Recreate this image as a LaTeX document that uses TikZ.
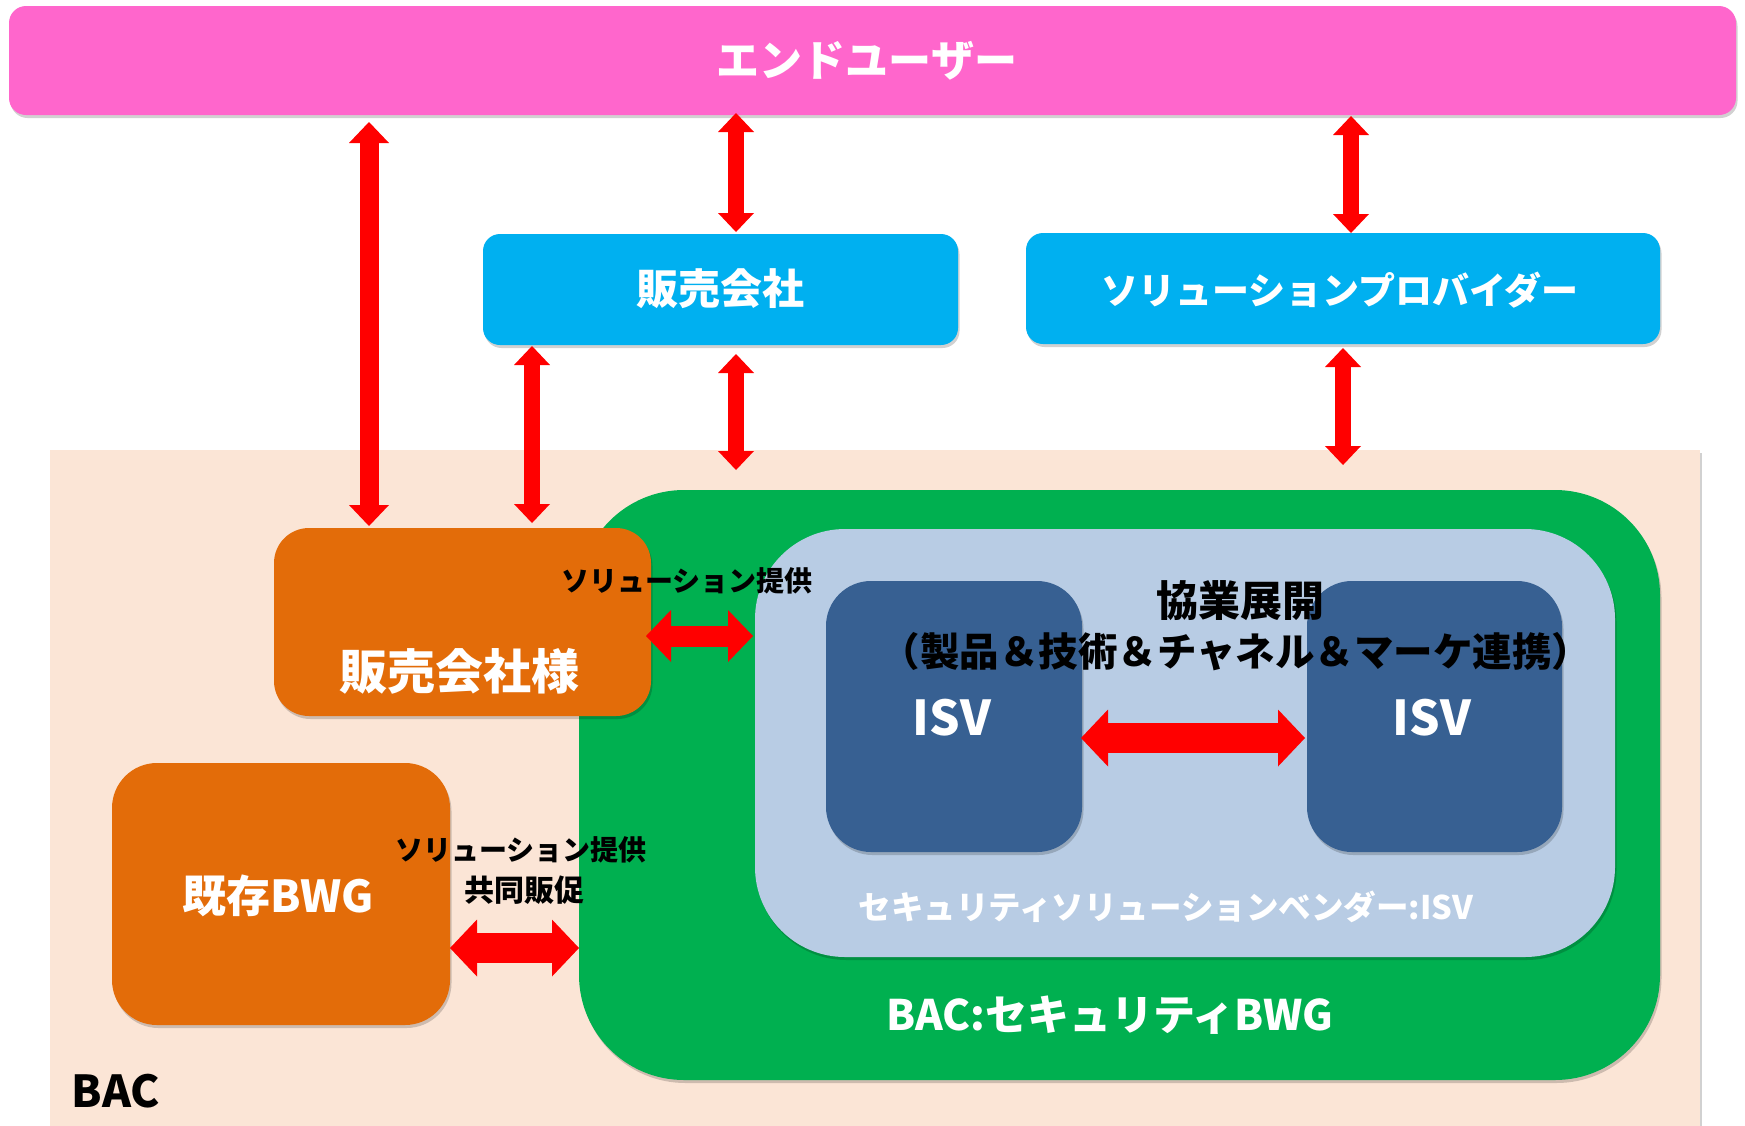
\documentclass[tikz,border=0pt]{standalone}
\usepackage{fontspec}
\usepackage{graphicx}
\setmainfont{Noto Sans CJK JP}
\usetikzlibrary{arrows.meta,shadows}
\newcommand{\fsz}[1]{\fontsize{#1pt}{#1pt}\selectfont\bfseries}
\definecolor{cpink}{HTML}{FF66CC}
\definecolor{cblue}{HTML}{00B0F0}
\definecolor{cbeige}{HTML}{FBE5D6}
\definecolor{cgreen}{HTML}{00B050}
\definecolor{clblue}{HTML}{B8CCE4}
\definecolor{cdblue}{HTML}{376092}
\definecolor{corange}{HTML}{E36C09}
\definecolor{cred}{HTML}{FF0000}
\begin{document}
\begin{tikzpicture}[x=1pt,y=-1pt,
  shad/.style={drop shadow={shadow xshift=1.5pt,shadow yshift=-3pt,opacity=0.18,fill=black}},
  box/.style={inner sep=0pt,outer sep=0pt,shad},
  txt/.style={inner sep=0pt,outer sep=0pt,anchor=center},
  varrow/.style={draw=cred,line width=16pt,
     {Triangle[width=36pt,length=19pt,line width=0pt]}-{Triangle[width=36pt,length=19pt,line width=0pt]}},
  varrowA/.style={draw=cred,line width=19pt,
     {Triangle[width=40pt,length=21pt,line width=0pt]}-{Triangle[width=40pt,length=21pt,line width=0pt]}},
  harrowS/.style={draw=cred,line width=21pt,
     {Triangle[width=52pt,length=25pt,line width=0pt]}-{Triangle[width=52pt,length=25pt,line width=0pt]}},
  harrowL/.style={draw=cred,line width=30pt,
     {Triangle[width=57pt,length=27pt,line width=0pt]}-{Triangle[width=57pt,length=27pt,line width=0pt]}}
]
\useasboundingbox (0,0) rectangle (1745,1125);
% background BAC area
\node[box,fill=cbeige,minimum width=1650pt,minimum height=690pt] (bac) at (875,795) {};
% green security BWG
\node[box,fill=cgreen,rounded corners=105pt,minimum width=1081pt,minimum height=590pt] (green) at (1119.5,785) {};
% light blue ISV group
\node[box,fill=clblue,rounded corners=90pt,minimum width=860pt,minimum height=428pt] (lb) at (1185,743) {};
% ISV boxes
\node[box,fill=cdblue,rounded corners=45pt,minimum width=256pt,minimum height=271pt] (isv1) at (954,716.5) {};
\node[box,fill=cdblue,rounded corners=45pt,minimum width=255pt,minimum height=271pt] (isv2) at (1434.5,716.5) {};
% orange boxes
\node[box,fill=corange,rounded corners=35pt,minimum width=377pt,minimum height=188pt] (salesco) at (462.5,622) {};
\node[box,fill=corange,rounded corners=45pt,minimum width=338pt,minimum height=262pt] (kizon) at (281,894) {};
% top boxes
\node[box,fill=cpink,rounded corners=17pt,minimum width=1727pt,minimum height=109pt] (user) at (872.5,60.5) {};
\node[box,fill=cblue,rounded corners=17pt,minimum width=475pt,minimum height=111pt] (sales) at (720.5,289.5) {};
\node[box,fill=cblue,rounded corners=17pt,minimum width=634pt,minimum height=111pt] (sp) at (1343,288.5) {};
% helper coordinates for arrow lines
\coordinate (x1) at (369,0);
\coordinate (x2) at (736,0);
\coordinate (x3) at (1351,0);
\coordinate (x4) at (532,0);
\coordinate (x6) at (1343,0);
\coordinate (h1) at (0,636);
\coordinate (h2) at (0,738);
\coordinate (h3) at (0,948);
% vertical arrows
\draw[varrowA,shorten <=7pt,shorten >=2pt] (x1 |- user.south) -- (x1 |- salesco.north);
\draw[varrow,shorten <=-2pt,shorten >=2pt] (x2 |- user.south) -- (x2 |- sales.north);
\draw[varrow,shorten <=1pt,shorten >=0pt] (x3 |- user.south) -- (x3 |- sp.north);
\draw[varrow,shorten <=1pt,shorten >=5pt] (x4 |- sales.south) -- (x4 |- salesco.north);
\draw[varrow,shorten <=9pt,shorten >=-20pt] (x2 |- sales.south) -- (x2 |- bac.north);
\draw[varrow,shorten <=4pt,shorten >=-15pt] (x6 |- sp.south) -- (x6 |- bac.north);
% horizontal arrows
\draw[harrowS,shorten <=-5pt,shorten >=2pt] (salesco.east |- h1) -- (lb.west |- h1);
\draw[harrowL,shorten <=-1pt,shorten >=2pt] (isv1.east |- h2) -- (isv2.west |- h2);
\draw[harrowL] (kizon.east |- h3) -- (green.west |- h3);
% texts
\node[txt,white,font=\fsz{43}] (tuser) at (867,61) {エンドユーザー};
\node[txt,white,font=\fsz{42}] (tsales) at (720,289) {販売会社};
\node[txt,white,font=\fsz{37}] (tsp) at (1340,290) {ソリューションプロバイダー};
\node[txt,white,font=\fsz{48}] (tsalesco) at (459,671) {販売会社様};
\node[txt,black,font=\fsz{28}] (tsol1) at (687,581) {ソリューション提供};
\node[txt,black,font=\fsz{42}] (tkyo) at (1240,601) {協業展開};
\node[txt,black,font=\fsz{39.5}] (tkyo2) at (1236,652) {（製品＆技術＆チャネル＆マーケ連携）};
\node[txt,white,font=\fsz{48}] (tisv1) at (952,718) {ISV};
\node[txt,white,font=\fsz{48}] (tisv2) at (1432,718) {ISV};
\node[txt,white,font=\fsz{32.5}] (tvendor) at (1166,907) {セキュリティソリューションベンダー:ISV};
\node[txt,white,font=\fsz{42}] (tbwg) at (1110,1015) {BAC:セキュリティBWG};
\node[txt,black,font=\fsz{44}] (tbac) at (116,1091) {BAC};
\node[txt,white,font=\fsz{44}] (tkizon) at (278,896) {既存BWG};
\node[txt,black,font=\fsz{28}] (tsol2) at (521,850) {ソリューション提供};
\node[txt,black,font=\fsz{30}] (tsol3) at (524,890) {共同販促};
\end{tikzpicture}
\end{document}
